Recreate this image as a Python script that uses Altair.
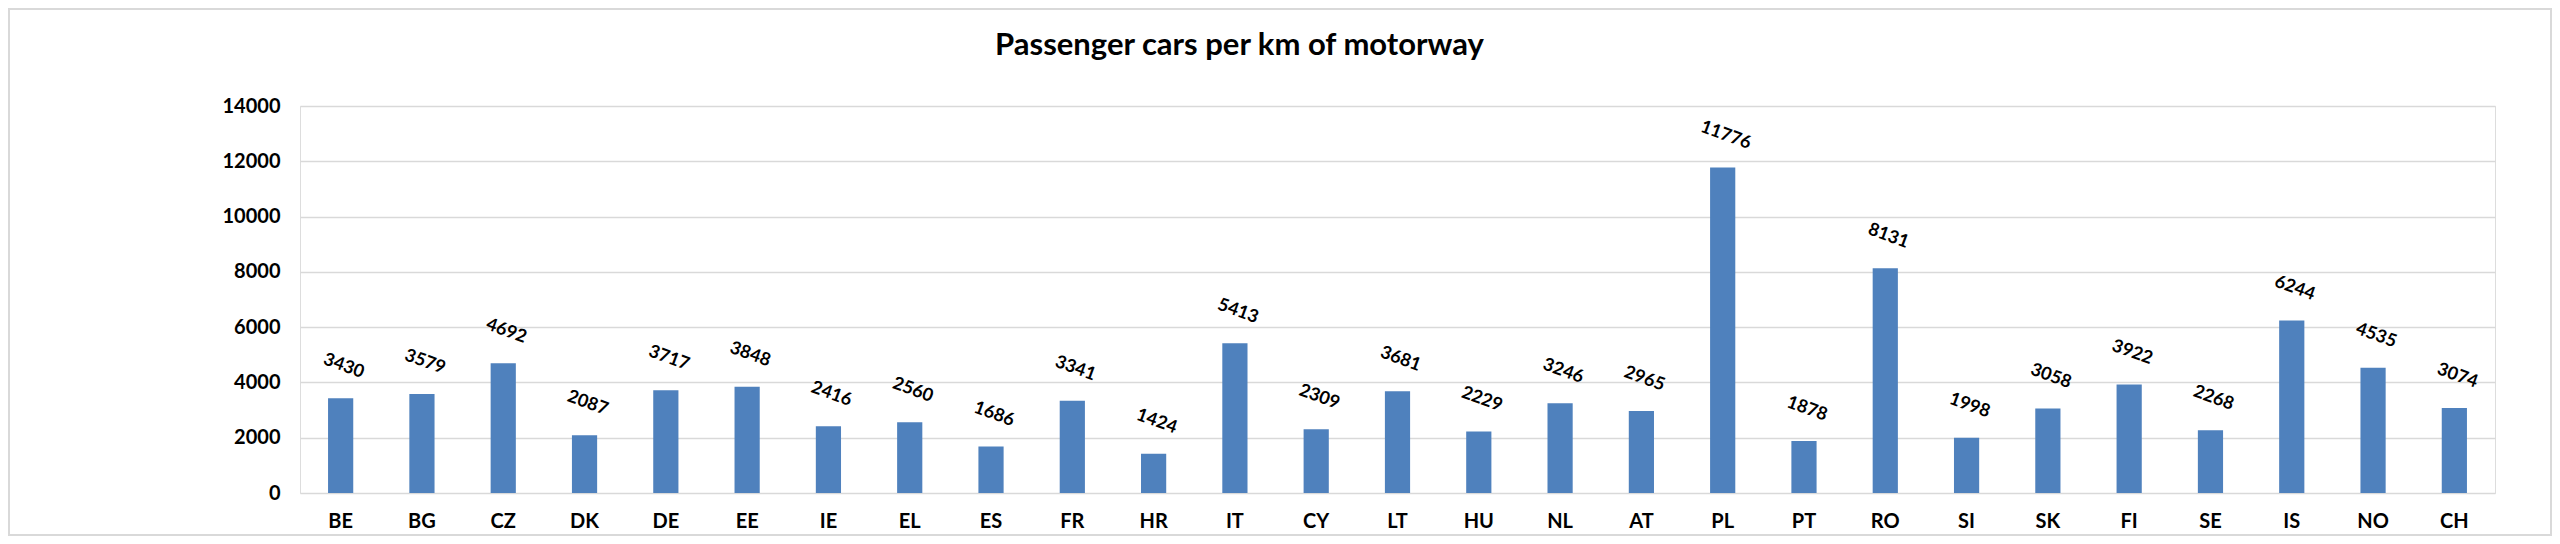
import altair as alt
import pandas as pd

countries = ["BE", "BG", "CZ", "DK", "DE", "EE", "IE", "EL", "ES", "FR", "HR", "IT", "CY", "LT",
             "HU", "NL", "AT", "PL", "PT", "RO", "SI", "SK", "FI", "SE", "IS", "NO", "CH"]
values = [3430, 3579, 4692, 2087, 3717, 3848, 2416, 2560, 1686, 3341, 1424, 5413, 2309, 3681,
          2229, 3246, 2965, 11776, 1878, 8131, 1998, 3058, 3922, 2268, 6244, 4535, 3074]
y_ticks = [0, 2000, 4000, 6000, 8000, 10000, 12000, 14000]
title_text = "Passenger cars per km of motorway"

df = pd.DataFrame({"country": countries, "value": values})

FONT = "Lato"
PLOT_W, PLOT_H = 2195, 387
PAD = {"left": 292, "top": 98, "right": 57, "bottom": 43}

x = alt.X("country:N", sort=countries, title=None,
          scale=alt.Scale(paddingInner=0.69, paddingOuter=0.345),
          axis=alt.Axis(labelAngle=0, labelFont=FONT, labelFontSize=20, labelFontWeight="bold",
                        labelColor="#000000", labelPadding=18, ticks=False, domain=False))
y = alt.Y("value:Q", title=None,
          scale=alt.Scale(domain=[0, 14000], nice=False),
          axis=alt.Axis(values=y_ticks, format="d", labelFont=FONT, labelFontSize=20,
                        labelFontWeight="bold", labelColor="#000000", labelPadding=20,
                        ticks=False, domain=False, grid=True, gridColor="#D9D9D9", gridWidth=1.5))

bars = alt.Chart(df).mark_bar(color="#4F81BD").encode(x=x, y=y)

labels = alt.Chart(df).mark_text(
    angle=20, yOffset=-32, xOffset=3, font=FONT, fontSize=18, fontWeight="bold", color="#000000",
    align="center", baseline="middle"
).encode(x=alt.X("country:N", sort=countries), y=alt.Y("value:Q"),
         text=alt.Text("value:Q", format="d"))

frame = alt.Chart(df).mark_rect(fill=None, stroke="#D9D9D9", strokeWidth=1.5).encode(
    x=alt.value(-PAD["left"] + 1), x2=alt.value(PLOT_W + PAD["right"] - 1),
    y=alt.value(-PAD["top"] + 1), y2=alt.value(PLOT_H + PAD["bottom"] - 1))

chart = alt.layer(frame, bars, labels).properties(
    width=PLOT_W, height=PLOT_H,
    title=alt.TitleParams(title_text, font=FONT, fontSize=31, fontWeight="bold", color="#000000",
                          anchor="middle", dx=-158, offset=0, baseline="middle", dy=69),
    autosize=alt.AutoSizeParams(type="none"),
    padding=PAD,
).configure_view(stroke=None).configure(background="#FFFFFF")

chart.save("out.html", embed_options={"renderer": "svg", "actions": False})
